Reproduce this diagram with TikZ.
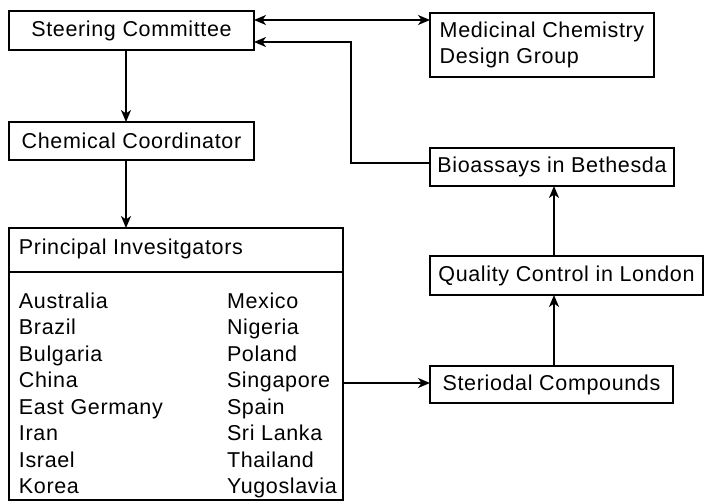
\documentclass[tikz,border=0pt]{standalone}
\usepackage{fontspec}
\setmainfont[LetterSpace=3]{Liberation Sans}
\usetikzlibrary{arrows.meta,calc}
\begin{document}
\begin{tikzpicture}[x=1pt,y=-1pt,
  every node/.style={font=\fontsize{21.5}{26.5}\selectfont, inner sep=0pt, outer sep=0pt},
  box/.style={draw, line width=1.6pt, align=left},
  conn/.style={line width=1.6pt, -{Stealth[length=12pt,width=10pt,inset=3.5pt]}},
  txt/.style={anchor=base west}]
\useasboundingbox (0,0) rectangle (704,502);
% boxes
\node[box, minimum width=245pt, minimum height=39pt] (sc) at (131.5,30.5) {Steering Committee};
\node[box, minimum width=245pt, minimum height=38pt] (cc) at (131.5,141) {Chemical Coordinator};
\node[box, minimum width=334pt, minimum height=272pt] (pi) at (176,364) {};
\node[box, minimum width=224pt, minimum height=64pt] (mc) at (542,45) {Medicinal Chemistry\\Design Group};
\node[box, minimum width=244pt, minimum height=38pt] (bio) at (552,167) {Bioassays in Bethesda};
\node[box, minimum width=273pt, minimum height=39pt] (qc) at (566.5,275.5) {Quality Control in London};
\node[box, minimum width=243pt, minimum height=37pt] (st) at (551.5,384.5) {Steriodal Compounds};
% divider in PI box
\coordinate (div) at (0,272);
\draw[line width=1.6pt] (div -| pi.west) -- (div -| pi.east);
\node[txt] (hd) at (19,255) {Principal Invesitgators};
% countries
\node[txt] (c1) at (19,308.3) {Australia};
\node[txt] (c2) at (19,334.8) {Brazil};
\node[txt] (c3) at (19,361.3) {Bulgaria};
\node[txt] (c4) at (19,387.8) {China};
\node[txt] (c5) at (19,414.3) {East Germany};
\node[txt] (c6) at (19,440.8) {Iran};
\node[txt] (c7) at (19,467.3) {Israel};
\node[txt] (c8) at (19,493.8) {Korea};
\node[txt] (d1) at (227,308.3) {Mexico};
\node[txt] (d2) at (227,334.8) {Nigeria};
\node[txt] (d3) at (227,361.3) {Poland};
\node[txt] (d4) at (227,387.8) {Singapore};
\node[txt] (d5) at (227,414.3) {Spain};
\node[txt] (d6) at (227,440.8) {Sri Lanka};
\node[txt] (d7) at (227,467.3) {Thailand};
\node[txt] (d8) at (227,493.8) {Yugoslavia};
% connectors
\draw[conn] ([xshift=-5.5pt]sc.south) -- ([xshift=-5.5pt]sc.south |- cc.north);
\draw[conn] ([xshift=-5.5pt]cc.south) -- ([xshift=-5.5pt]cc.south |- pi.north);
\draw[conn, {Stealth[length=12pt,width=10pt,inset=3.5pt]}-{Stealth[length=12pt,width=10pt,inset=3.5pt]}]
  ([yshift=10.5pt]sc.east) -- ([yshift=10.5pt]sc.east -| mc.west);
\coordinate (turn) at (351,42);
\draw[conn] ([yshift=4pt]bio.west) -| (turn) -- (turn -| sc.east);
\draw[conn] ([yshift=1.5pt]st.west -| pi.east) -- ([yshift=1.5pt]st.west);
\draw[conn] ([xshift=2.5pt]st.north) -- ([xshift=2.5pt]st.north |- qc.south);
\draw[conn] ([xshift=2.5pt]st.north |- qc.north) -- ([xshift=2.5pt]st.north |- bio.south);
\end{tikzpicture}
\end{document}
